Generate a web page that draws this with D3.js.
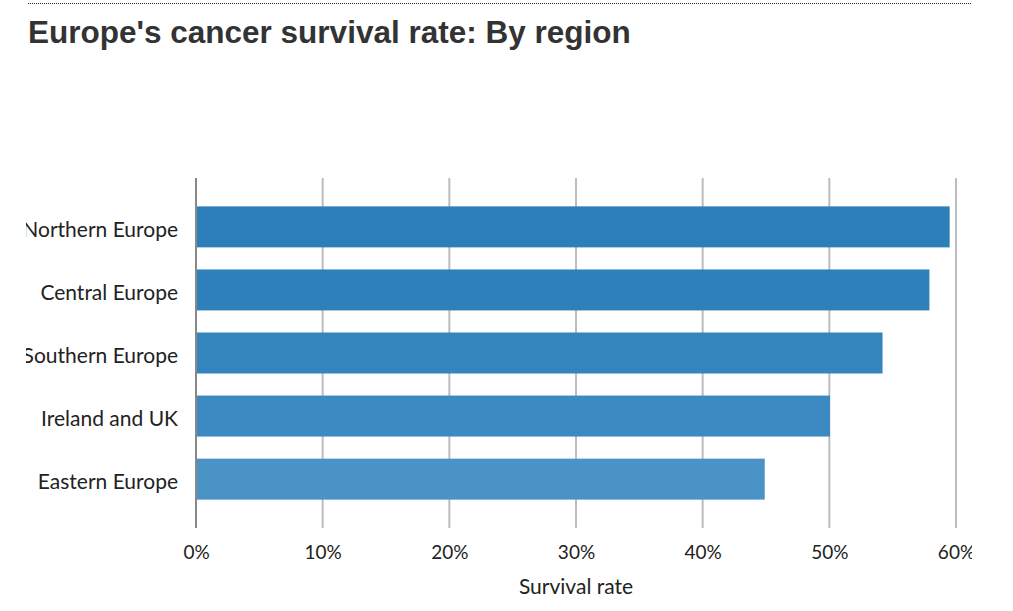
<!DOCTYPE html>
<html><head><meta charset="utf-8">
<script src="https://cdn.jsdelivr.net/npm/d3@7"></script>
<style>
body{margin:0;background:#fff;}
svg{display:block;}
</style></head>
<body>
<svg id="chart" width="1013" height="611"></svg>
<script>
const title = "Europe's cancer survival rate: By region";
const regions = ["Northern Europe","Central Europe","Southern Europe","Ireland and UK","Eastern Europe"];
const survival = [59.5, 57.9, 54.2, 50.05, 44.9];
const barColors = ["#2c7fb8","#2d80b9","#3484bd","#3d8ac2","#4a93c6"];
const tickValues = [0,10,20,30,40,50,60];
const axisTitle = "Survival rate";

const svg = d3.select("#chart");
const defs = svg.append("defs");
defs.append("clipPath").attr("id","clip").append("rect")
  .attr("x",26).attr("y",0).attr("width",946).attr("height",611);

svg.append("line").attr("x1",28).attr("x2",972).attr("y1",3.5).attr("y2",3.5)
  .attr("stroke","#222").attr("stroke-width",1).attr("stroke-dasharray","1,1");

svg.append("text").attr("x",28).attr("y",43)
  .attr("font-family","Liberation Sans, Arial, sans-serif").attr("font-weight","bold")
  .attr("font-size",31.5).attr("fill","#333").text(title);

const g = svg.append("g").attr("clip-path","url(#clip)");

const x = d3.scaleLinear().domain([0,60]).range([196,956]);
const y = d3.scaleBand().domain(regions).range([178,528]).paddingInner(0.35).paddingOuter(0.45);

// grid lines
g.append("g").selectAll("line").data(tickValues.filter(d=>d>0)).join("line")
  .attr("x1",d=>x(d)).attr("x2",d=>x(d)).attr("y1",178).attr("y2",528)
  .attr("stroke","#bdbdbd").attr("stroke-width",2);

// bars
g.append("g").selectAll("rect").data(regions).join("rect")
  .attr("x",x(0)).attr("y",d=>y(d))
  .attr("width",(d,i)=>x(survival[i])-x(0))
  .attr("height",y.bandwidth())
  .attr("fill",(d,i)=>barColors[i]);

// left axis line
g.append("line").attr("x1",x(0)).attr("x2",x(0)).attr("y1",178).attr("y2",528)
  .attr("stroke","#888").attr("stroke-width",2);

// y labels
const yAxis = d3.axisLeft(y).tickSize(0).tickPadding(18);
const ya = g.append("g").attr("transform",`translate(${x(0)},3)`).call(yAxis);
ya.select(".domain").remove();
ya.selectAll("text").attr("font-family","Lato, sans-serif").attr("font-size",21).attr("fill","#222");

// x labels
const xAxis = d3.axisBottom(x).tickValues(tickValues).tickFormat(d=>d+"%").tickSize(0).tickPadding(0);
const xa = g.append("g").attr("transform","translate(0,545)").call(xAxis);
xa.select(".domain").remove();
xa.selectAll("text").attr("font-family","Lato, sans-serif").attr("font-size",19).attr("fill","#222");

g.append("text").attr("x",576).attr("y",594).attr("text-anchor","middle")
  .attr("font-family","Lato, sans-serif").attr("font-size",21).attr("fill","#222").text(axisTitle);
</script>
</body></html>
